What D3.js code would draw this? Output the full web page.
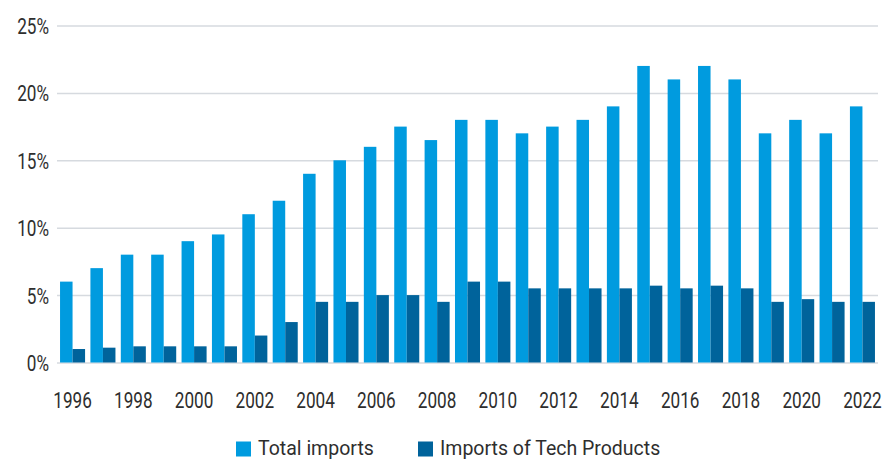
<!DOCTYPE html>
<html>
<head>
<meta charset="utf-8">
<script src="https://cdn.jsdelivr.net/npm/d3@7"></script>
<style>
  html, body { margin: 0; padding: 0; background: #fff; }
  svg { display: block; }
  .tick text { font-family: "Roboto", sans-serif; fill: #2e2e2e; }
  .legend text { font-family: "Roboto", sans-serif; fill: #2e2e2e; }
</style>
</head>
<body>
<svg id="chart" width="885" height="459"></svg>
<script>
const years = [1996,1997,1998,1999,2000,2001,2002,2003,2004,2005,2006,2007,2008,2009,2010,2011,2012,2013,2014,2015,2016,2017,2018,2019,2020,2021,2022];
const totalImports = [6,7,8,8,9,9.5,11,12,14,15,16,17.5,16.5,18,18,17,17.5,18,19,22,21,22,21,17,18,17,19];
const techImports = [1,1.1,1.2,1.2,1.2,1.2,2,3,4.5,4.5,5,5,4.5,6,6,5.5,5.5,5.5,5.5,5.7,5.5,5.7,5.5,4.5,4.7,4.5,4.5];
const seriesNames = ["Total imports", "Imports of Tech Products"];
const seriesColors = ["#009bdf", "#00639b"];
const yTicks = [0,5,10,15,20,25];
const xTickYears = years.filter(y => y % 2 === 0);

const svg = d3.select("#chart");
const margin = {left: 57, right: 7, top: 25.5, bottom: 96.5};
const W = 885, H = 459;
const condense = 0.78;

const x = d3.scaleBand().domain(years).range([margin.left, W - margin.right]).paddingInner(0.176).paddingOuter(0.1);
const xs = d3.scaleBand().domain([0,1]).range([0, x.bandwidth()]);
const y = d3.scaleLinear().domain([0, 25]).range([H - margin.bottom, margin.top]);

// grid + y axis
const yPad = 8;
const yAxis = d3.axisLeft(y).tickValues(yTicks).tickFormat(d => d + "%").tickSize(-(W - margin.right - margin.left)).tickPadding(yPad);
const gy = svg.append("g").attr("transform", `translate(${margin.left},0)`).call(yAxis);
gy.select(".domain").remove();
gy.selectAll(".tick line").attr("stroke", "#d6dadf").attr("stroke-width", 1.5);
gy.selectAll(".tick text").attr("font-size", 22).attr("dy", "0.36em")
  .attr("x", -yPad / condense).attr("transform", `scale(${condense},1)`);

// bars
const series = [totalImports, techImports];
series.forEach((vals, si) => {
  svg.append("g").selectAll("rect").data(years).join("rect")
    .attr("x", (d) => x(d) + xs(si))
    .attr("width", xs.bandwidth())
    .attr("y", (d, i) => y(vals[i]))
    .attr("height", (d, i) => y(0) - y(vals[i]))
    .attr("fill", seriesColors[si]);
});

// x axis
const xAxis = d3.axisBottom(x).tickValues(xTickYears).tickSize(0).tickPadding(30);
const gx = svg.append("g").attr("transform", `translate(0,${y(0)})`).call(xAxis);
gx.select(".domain").remove();
gx.selectAll(".tick text").attr("font-size", 22).attr("transform", `scale(${condense},1)`);

// legend
const legendX = [236, 418];
const lg = svg.append("g").attr("class", "legend");
seriesNames.forEach((name, i) => {
  const g = lg.append("g").attr("transform", `translate(${legendX[i]},441.5)`);
  g.append("rect").attr("width", 15).attr("height", 15).attr("fill", seriesColors[i]);
  g.append("text").attr("x", 22).attr("y", 13.5).attr("font-size", 19.5).text(name);
});
</script>
</body>
</html>
